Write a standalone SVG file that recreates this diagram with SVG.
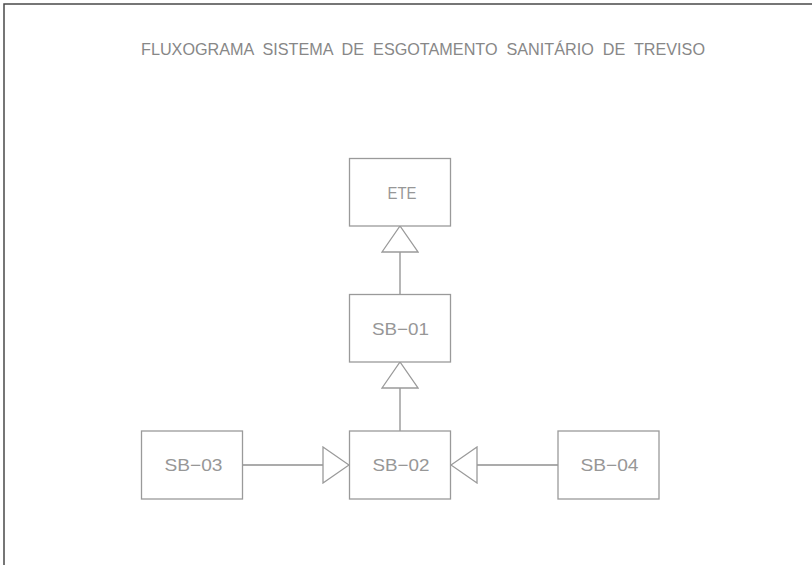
<svg xmlns="http://www.w3.org/2000/svg" width="812" height="565" viewBox="0 0 812 565">
<defs>
<style>
.box{fill:#fff;stroke:#9a9a9a;stroke-width:1.3}
.lbl{font-family:"Liberation Sans",Arial,sans-serif;font-size:17px;fill:#979797;text-anchor:middle}
.ttl{font-family:"Liberation Sans",Arial,sans-serif;font-size:16.5px;fill:#878787}
.con{stroke:#8f8f8f;stroke-width:1.3;fill:none}
</style>
<marker id="tri" viewBox="-1 -1 28 38" markerWidth="28" markerHeight="38" refX="26" refY="18" markerUnits="userSpaceOnUse" orient="auto">
<path d="M0,0 L26,18 L0,36 Z" fill="#fff" stroke="#9a9a9a" stroke-width="1.3"/>
</marker>
</defs>
<rect width="812" height="565" fill="#fff"/>
<path d="M4,565 V4 H812" fill="none" stroke="#4a4a4a" stroke-width="1.5"/>
<text class="ttl" x="141" y="54.5" textLength="564" lengthAdjust="spacingAndGlyphs" xml:space="preserve">FLUXOGRAMA  SISTEMA  DE  ESGOTAMENTO  SANITÁRIO  DE  TREVISO</text>
<g id="connectors">
<path class="con" d="M400,294 V226" marker-end="url(#tri)"/>
<path class="con" d="M400,431 V362" marker-end="url(#tri)"/>
<path class="con" d="M242,465 H349" marker-end="url(#tri)"/>
<path class="con" d="M558,465 H451" marker-end="url(#tri)"/>
</g>
<g id="ETE">
<rect class="box" x="349.5" y="158.5" width="101" height="67.5"/>
<text class="lbl" x="402" y="198.5" textLength="29" lengthAdjust="spacingAndGlyphs">ETE</text>
</g>
<g id="SB-01">
<rect class="box" x="349.5" y="294.5" width="101" height="67.5"/>
<text class="lbl" x="400.5" y="334.5" textLength="57" lengthAdjust="spacingAndGlyphs">SB−01</text>
</g>
<g id="SB-02">
<rect class="box" x="349.5" y="431" width="101" height="68"/>
<text class="lbl" x="401" y="471" textLength="57" lengthAdjust="spacingAndGlyphs">SB−02</text>
</g>
<g id="SB-03">
<rect class="box" x="141.5" y="431" width="101" height="68"/>
<text class="lbl" x="193.5" y="471" textLength="58" lengthAdjust="spacingAndGlyphs">SB−03</text>
</g>
<g id="SB-04">
<rect class="box" x="558" y="431" width="101" height="68"/>
<text class="lbl" x="609.5" y="471" textLength="58" lengthAdjust="spacingAndGlyphs">SB−04</text>
</g>
</svg>
